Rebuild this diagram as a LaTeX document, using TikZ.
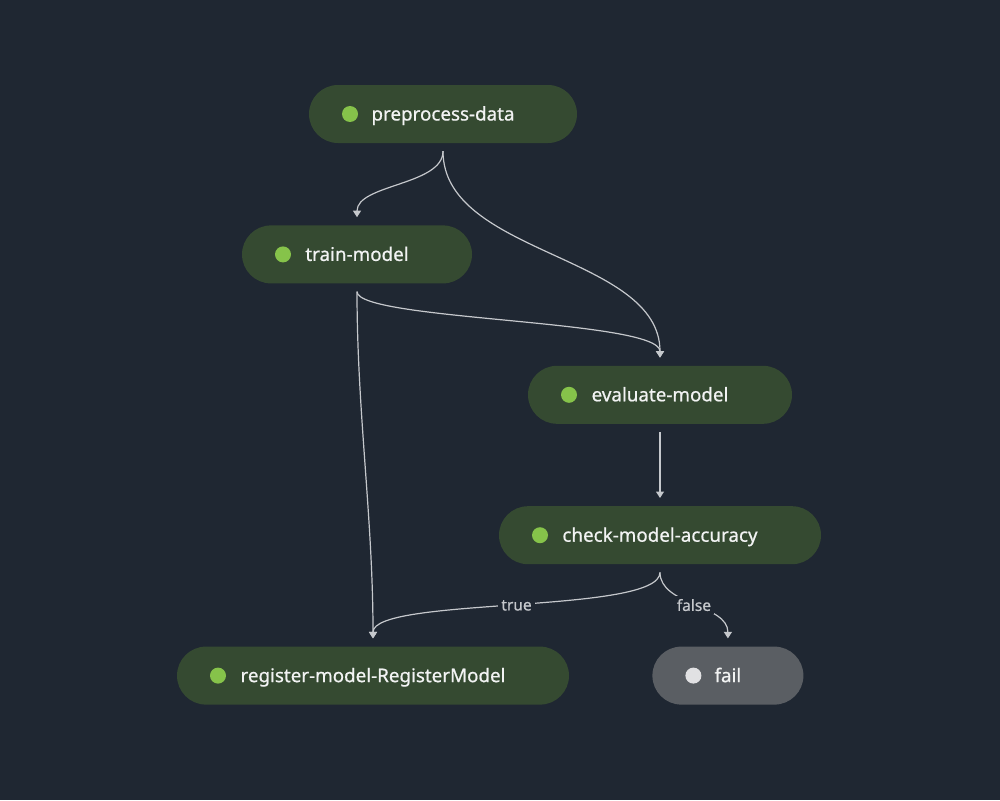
\documentclass[tikz,border=0pt]{standalone}
\usepackage{fontspec}
\setmainfont{Noto Sans}[FakeBold=0.7]
\usetikzlibrary{positioning,arrows.meta}
\definecolor{bgnavy}{HTML}{1F2732}
\definecolor{stepgreen}{HTML}{354A31}
\definecolor{dotgreen}{HTML}{86C34A}
\definecolor{failgray}{HTML}{5A5E63}
\definecolor{dotgray}{HTML}{E1E1E3}
\definecolor{edgegray}{HTML}{C5C8CC}
\definecolor{textwhite}{HTML}{F2F3F3}
\begin{document}
\begin{tikzpicture}[x=1pt,y=1pt,node distance=82pt,
    stepnode/.style={rectangle,rounded corners=29pt,minimum height=58pt,inner sep=0pt,
      text=textwhite,font=\fontsize{18.8}{20}\selectfont,text height=17pt,text depth=4pt},
    done/.style={stepnode,fill=stepgreen,
      path picture={\fill[dotgreen] ([xshift=41pt]path picture bounding box.west) circle (8pt);}},
    failed/.style={stepnode,fill=failgray,
      path picture={\fill[dotgray] ([xshift=41pt]path picture bounding box.west) circle (8pt);}},
    flow/.style={draw=edgegray,line width=1.2pt,-{Triangle[width=8pt,length=6.5pt]}},
    cond/.style={fill=bgnavy,text=edgegray,inner sep=3pt,font=\fontsize{15.5}{17}\selectfont}] %
    \fill[bgnavy] (0,0) rectangle (1000,-800);
    \useasboundingbox (0,0) rectangle (1000,-800);
    \node[done,minimum width=268pt] (prep) at (443,-114) {preprocess-data} ; %
    \node[done,minimum width=230pt,below=of prep,xshift=-86pt] (train) {train-model} ; %
    \node[done,minimum width=264pt,below=of train,xshift=303pt] (eval) {evaluate-model} ; %
    \node[done,minimum width=322pt,below=of eval] (check) {check-model-accuracy};
    \node[done,minimum width=392pt,below=of check,xshift=-287pt] (register) {register-model-RegisterModel};
    \node[failed,minimum width=151pt,right=of register,xshift=1pt] (fail) {fail};
    \draw[flow] ([yshift=-8pt]prep.south) .. controls +(0,-34) and +(0,33) .. ([yshift=8pt]train.north) ; %
    \draw[flow] ([yshift=-8pt]prep.south) .. controls +(0,-104) and +(0,103) .. ([yshift=8pt]eval.north) ;
    \draw[flow] ([yshift=-8pt]train.south) .. controls +(0,-29) and +(0,38) .. ([yshift=8pt]eval.north) ;
    \draw[flow] ([yshift=-8pt]train.south) .. controls +(0,-120) and +(0,120) .. ([yshift=8pt]register.north) ;
    \draw[flow] ([yshift=-8pt]eval.south) -- ([yshift=8pt]check.north) ;
    \draw[flow] ([yshift=-8pt]check.south) .. controls +(0,-42) and +(0,42) .. node[cond] (yes) {true} ([yshift=8pt]register.north) ;
    \draw[flow] ([yshift=-8pt]check.south) .. controls +(0,-33) and +(0,34) .. node[cond] (no) {false} ([yshift=8pt]fail.north) ;
  \end{tikzpicture}
\end{document}
